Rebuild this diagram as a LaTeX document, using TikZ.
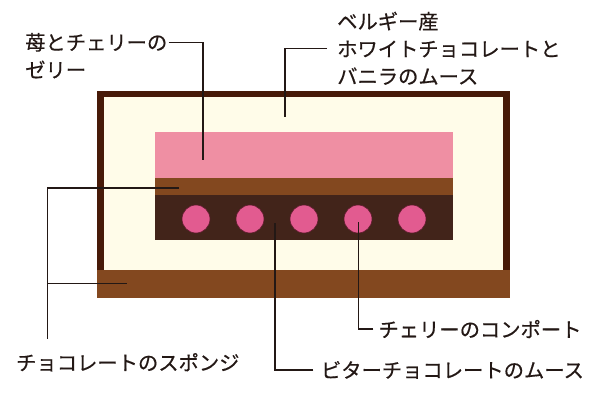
\documentclass[tikz,border=0pt]{standalone}
\usepackage{fontspec}
\newfontfamily\jpfont[FakeBold=0.5]{Noto Sans CJK JP}
\definecolor{frame}{HTML}{471A08}
\definecolor{cream}{HTML}{FFFCE9}
\definecolor{jelly}{HTML}{EF8FA3}
\definecolor{sponge}{HTML}{83481F}
\definecolor{bitter}{HTML}{42241A}
\definecolor{cherry}{HTML}{E25B90}
\definecolor{cherryrim}{HTML}{5A1A2A}
\definecolor{ink}{HTML}{231815}

\begin{document}
\begin{tikzpicture}[x=1pt, y=1pt,
    leader/.style={draw=ink, line width=1.1pt},
    tag/.style={inner ysep=0pt, inner xsep=0pt, anchor=west, align=left, text=ink,
        font={\jpfont\fontsize{20.3pt}{27.5pt}\selectfont}}]
    \useasboundingbox (0,0) rectangle (600,400);

    % 蛋糕层
    \fill[frame] (97,130) rectangle (510,309.3);
    \fill[cream] (104,130) rectangle (503,302.7);
    \fill[sponge] (97,101.7) rectangle (510,130);
    \fill[jelly] (155,221.7) rectangle (453.3,267.7);
    \fill[sponge] (155,205) rectangle (453.3,221.7);
    \fill[bitter] (155,160) rectangle (453.3,205);

    % 樱桃
    \foreach \x in {196,250,...,412}
        \filldraw[fill=cherry, draw=cherryrim, line width=0.6pt] (\x,181) circle (14pt);

    % 标注
    \node[tag, inner xsep=1pt] (jellytag) at (24,344.3) {苺とチェリーの\\ゼリー};
    \node[tag, inner xsep=10pt] (moussetag) at (327,351.7) {ベルギー産\\ホワイトチョコレートと\\バニラのムース};
    \node[tag, outer ysep=14pt] (spongetag) at (16,37.7) {チョコレートのスポンジ};
    \node[tag, inner xsep=7.5pt] (bittertag) at (313.3,30) {ビターチョコレートのムース};
    \node[tag, inner xsep=5pt] (compotetag) at (373.3,71) {チェリーのコンポート};

    \coordinate (jellyend) at (203,240);
    \coordinate (mousseend) at (285,283);
    \coordinate (spongetop) at (179,212);
    \coordinate (spongeknee) at (47.7,212);
    \coordinate (spongebase) at (126.7,116.7);
    \coordinate (bitterend) at (275,177);
    \coordinate (compoteend) at (358.3,178);

    % 引线
    \draw[leader] (jellytag.east |- 0,357.3) -| (jellyend);
    \draw[leader] (moussetag.west) -| (mousseend);
    \draw[leader] (spongetop) -| (spongetag.north -| spongeknee);
    \draw[leader] (spongebase) -- (spongebase -| spongeknee);
    \draw[leader] (bittertag.west) -| (bitterend);
    \draw[leader] (compotetag.west) -| (compoteend);
\end{tikzpicture}
\end{document}
